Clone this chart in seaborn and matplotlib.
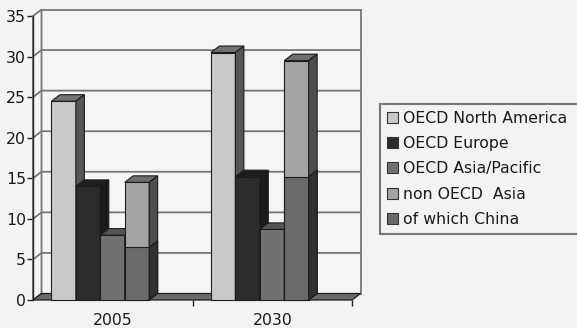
import numpy as np
import pandas as pd
import matplotlib
matplotlib.use("Agg")
import matplotlib.pyplot as plt
from matplotlib.patches import Polygon, Patch
import seaborn as sns

# Energy demand by region (values per year)
years = ["2005", "2030"]
north_america = [24.5, 30.5]
europe = [14.0, 15.2]
asia_pacific = [8.0, 8.7]
non_oecd_asia = [14.5, 29.5]
china = [6.5, 15.2]

series_names = ["OECD North America", "OECD Europe", "OECD Asia/Pacific",
                "non OECD  Asia", "of which China"]
y_ticks = [0, 5, 10, 15, 20, 25, 30, 35]

# front / top / side shades for each series
front = ["#c9c9c9", "#2c2c2c", "#717171", "#a4a4a4", "#6a6a6a"]
top = ["#727272", "#1f1f1f", "#555555", "#6e6e6e", "#4a4a4a"]
side = ["#565656", "#1b1b1b", "#3c3c3c", "#4d4d4d", "#303030"]
edge = "#1c1c1c"
bg = "#f3f3f3"
wall = "#f5f5f5"
grid_c = "#767676"

sns.set_theme(style="white")
plt.rcParams["font.family"] = ["DejaVu Sans"]

df = pd.DataFrame({
    "year": years * 4,
    "region": np.repeat(series_names[:4], len(years)),
    "value": north_america + europe + asia_pacific + non_oecd_asia,
})

W, H = 577, 328
fig = plt.figure(figsize=(W / 100, H / 100), dpi=100, facecolor=bg)
ax = fig.add_axes([33 / W, 28 / H, 319 / W, 284 / H])
ax.set_facecolor("none")

sns.barplot(data=df, x="year", y="value", hue="region", order=years,
            hue_order=series_names[:4], palette=front[:4], width=0.6125,
            saturation=1, errorbar=None, edgecolor=edge, linewidth=0.8,
            legend=False, ax=ax)

xl, xr = -0.4219, 1.5781
ax.set_xlim(xl, xr)
ax.set_ylim(0, 35)

# depth offset of the 3D box, converted from pixels to data units
sx = ax.bbox.width / (xr - xl)
sy = ax.bbox.height / 35.0
dx = 8.5 / sx
dy = 6.5 / sy

# back wall, side wall and floor
ax.add_patch(Polygon([(xl + dx, dy), (xr + dx, dy), (xr + dx, 35 + dy), (xl + dx, 35 + dy)],
                     closed=True, facecolor=wall, edgecolor=grid_c, lw=1.3,
                     clip_on=False, zorder=0.5))
ax.add_patch(Polygon([(xl, 0), (xl + dx, dy), (xl + dx, 35 + dy), (xl, 35)],
                     closed=True, facecolor=wall, edgecolor=grid_c, lw=1.3,
                     clip_on=False, zorder=0.6))
for t in y_ticks[1:-1]:
    ax.plot([xl, xl + dx, xr + dx], [t, t + dy, t + dy], color=grid_c, lw=1.3,
            clip_on=False, zorder=1)
ax.add_patch(Polygon([(xl, 0), (xr, 0), (xr + dx, dy), (xl + dx, dy)],
                     closed=True, facecolor="#6b6b6b", edgecolor=edge, lw=0.9,
                     clip_on=False, zorder=1.5))


def faces(x0, w, h, top_c, side_c, z, with_top=True):
    x1 = x0 + w
    if with_top:
        ax.add_patch(Polygon([(x0, h), (x1, h), (x1 + dx, h + dy), (x0 + dx, h + dy)],
                             closed=True, facecolor=top_c, edgecolor=edge, lw=0.8,
                             clip_on=False, zorder=z))
    ax.add_patch(Polygon([(x1, 0), (x1 + dx, dy), (x1 + dx, h + dy), (x1, h)],
                         closed=True, facecolor=side_c, edgecolor=edge, lw=0.8,
                         clip_on=False, zorder=z))


# one entry per bar: (patch, series index), drawn left to right for occlusion
bars = []
for s, cont in enumerate(ax.containers):
    for p in cont:
        bars.append((p, s))
bars.sort(key=lambda b: b[0].get_x())

china_cont = ax.containers[3]
for rank, (p, s) in enumerate(bars):
    z = 3 + rank * 0.1
    p.set_zorder(z)
    p.set_clip_on(False)
    faces(p.get_x(), p.get_width(), p.get_height(), top[s], side[s], z + 0.01)

# China is a share of non-OECD Asia: drawn over the lower part of that bar
for i, p in enumerate(china_cont):
    rank = [b[0] for b in bars].index(p)
    z = 3 + rank * 0.1 + 0.05
    b = ax.bar(p.get_x() + p.get_width() / 2, china[i], width=p.get_width(),
               color=front[4], edgecolor=edge, linewidth=0.8, zorder=z)
    b[0].set_clip_on(False)
    faces(p.get_x(), p.get_width(), china[i], top[4], side[4], z + 0.01, with_top=False)

# axes, ticks and labels
for sp in ["top", "right", "bottom"]:
    ax.spines[sp].set_visible(False)
ax.spines["left"].set_color("#222222")
ax.spines["left"].set_linewidth(1.0)
ax.spines["left"].set_zorder(2)

ax.set_yticks(y_ticks)
ax.tick_params(axis="y", length=4, width=1, color="#222222", pad=1,
               labelsize=11.3, labelcolor="#1a1a1a", left=True)
ax.set_xticks([0.0781, 1.0781])
ax.set_xticklabels(years)
ax.set_xticks([0.5781, xr], minor=True)
ax.tick_params(axis="x", which="major", length=0, pad=9.5, labelsize=11.3,
               labelcolor="#1a1a1a")
ax.tick_params(axis="x", which="minor", length=4, width=1, color="#222222",
               bottom=True)
ax.set_xlabel("")
ax.set_ylabel("")

handles = [Patch(facecolor=c, edgecolor="#333333", linewidth=0.8) for c in front]
leg = fig.legend(handles, series_names, loc="upper left", mode="expand",
                 bbox_to_anchor=(380 / W, 1 - 233 / H, 230 / W, 129 / H),
                 borderaxespad=0, fontsize=11.3, handlelength=0.7,
                 handleheight=0.7, handletextpad=0.3, borderpad=0.45,
                 labelspacing=0.65, frameon=True, fancybox=False,
                 facecolor=bg, edgecolor="#5a5a5a")
leg.get_frame().set_linewidth(1.5)
for t in leg.get_texts():
    t.set_color("#1a1a1a")

fig.savefig("out.png", dpi=100, facecolor=bg)
